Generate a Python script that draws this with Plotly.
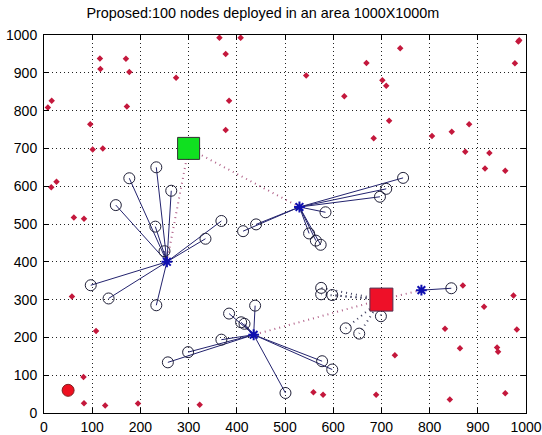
import plotly.graph_objects as go

title_text = "Proposed:100 nodes deployed in an area 1000X1000m"
tick_vals = list(range(0, 1001, 100))

# plain (unclustered) sensor nodes
node_x = [8, 16, 15, 26, 62, 83, 96, 101, 122, 116, 117, 170, 177, 172,
          58, 108, 82, 83, 127, 195, 323,
          364, 408, 377, 739, 984,
          559, 579, 689, 842, 957,
          986, 977, 805, 846, 882, 874, 924, 915, 957,
          869, 974, 913, 832, 981, 863, 940, 942, 728,
          274, 384, 377, 544, 623, 669, 702, 710, 684, 716]
node_y = [808, 826, 597, 612, 517, 514, 764, 697, 700, 938, 910, 937, 902, 811,
          308, 217, 95, 26, 20, 25, 22,
          993, 993, 950, 965, 983,
          55, 48, 48, 36, 52,
          986, 925, 733, 744, 764, 691, 688, 647, 641,
          337, 311, 281, 223, 221, 171, 173, 162, 153,
          887, 826, 749, 893, 838, 926, 880, 866, 727, 773]

# cluster heads
ch_x = [255, 530, 435, 783]
ch_y = [400, 545, 207, 325]

# members of each cluster head
m1_x = [233, 177, 264, 149, 231, 368, 335, 97, 134, 233, 250]
m1_y = [650, 621, 588, 550, 493, 508, 461, 338, 303, 285, 428]
m2_x = [745, 710, 697, 584, 550, 564, 574, 413, 440]
m2_y = [622, 593, 572, 531, 475, 456, 445, 481, 499]
m3_x = [438, 384, 409, 416, 368, 299, 257, 577, 598, 501]
m3_y = [284, 263, 240, 236, 194, 161, 134, 137, 115, 53]
m4_x = [845]
m4_y = [330]

# red square head and its members
rs_x, rs_y = 700, 300
m5_x = [575, 575, 598, 626, 654, 699]
m5_y = [331, 314, 312, 224, 210, 256]

# green square (base station) and red sink
bs_x, bs_y = 300, 700
sink_x, sink_y = 50, 60

FONT = "Liberation Sans, Arial, Helvetica, sans-serif"

fig = go.Figure()

def seg_lines(cx, cy, xs, ys):
    lx, ly = [], []
    for x, y in zip(xs, ys):
        lx += [cx, x, None]
        ly += [cy, y, None]
    return lx, ly

# solid member links
all_lx, all_ly = [], []
for (cx, cy), (xs, ys) in zip(zip(ch_x, ch_y), [(m1_x, m1_y), (m2_x, m2_y), (m3_x, m3_y), (m4_x, m4_y)]):
    lx, ly = seg_lines(cx, cy, xs, ys)
    all_lx += lx
    all_ly += ly
fig.add_trace(go.Scatter(x=all_lx, y=all_ly, mode="lines",
                         line=dict(color="#23236e", width=1), hoverinfo="skip"))

# dotted links red square -> members
lx, ly = seg_lines(rs_x, rs_y, m5_x, m5_y)
fig.add_trace(go.Scatter(x=lx, y=ly, mode="lines",
                         line=dict(color="#404060", width=2, dash="1px,4px"), hoverinfo="skip"))

# dotted links to squares
lx, ly = seg_lines(bs_x, bs_y, ch_x[:2], ch_y[:2])
lx2, ly2 = seg_lines(rs_x, rs_y, ch_x[2:], ch_y[2:])
fig.add_trace(go.Scatter(x=lx + lx2, y=ly + ly2, mode="lines",
                         line=dict(color="#b06088", width=2, dash="1px,4px"), hoverinfo="skip"))

# member circles
fig.add_trace(go.Scatter(x=m1_x + m2_x + m3_x + m4_x + m5_x,
                         y=m1_y + m2_y + m3_y + m4_y + m5_y, mode="markers",
                         marker=dict(symbol="circle-open", size=11, color="#202038",
                                     line=dict(width=1))))

# plain nodes
fig.add_trace(go.Scatter(x=node_x, y=node_y, mode="markers",
                         marker=dict(symbol="diamond", size=5, color="#c4183c")))

# cluster heads
fig.add_trace(go.Scatter(x=ch_x, y=ch_y, mode="markers",
                         marker=dict(symbol="asterisk-open", size=9, color="#1010b0",
                                     line=dict(color="#1010b0", width=2))))

# squares
fig.add_trace(go.Scatter(x=[bs_x], y=[bs_y], mode="markers",
                         marker=dict(symbol="square", size=22, color="#10e020",
                                     line=dict(color="#303030", width=1))))
fig.add_trace(go.Scatter(x=[rs_x], y=[rs_y], mode="markers",
                         marker=dict(symbol="square", size=23, color="#ee1028",
                                     line=dict(color="#503050", width=1))))
fig.add_trace(go.Scatter(x=[sink_x], y=[sink_y], mode="markers",
                         marker=dict(symbol="circle", size=12, color="#ee1020",
                                     line=dict(color="#802020", width=1))))

axis_common = dict(range=[0, 1000], tickvals=tick_vals, ticks="inside", ticklen=5,
                   tickcolor="black", showline=True, linecolor="black", linewidth=1,
                   mirror="ticks", showgrid=True, gridcolor="#222222", griddash="1px,3px",
                   gridwidth=1, zeroline=False, automargin=False,
                   tickfont=dict(family=FONT, size=14, color="black"))

fig.update_layout(
    width=542, height=435,
    margin=dict(l=44, r=16, t=35, b=22),
    paper_bgcolor="white", plot_bgcolor="white",
    showlegend=False,
    title=dict(text=title_text, x=0.485, xanchor="center", y=1 - 13 / 435, yanchor="middle",
               yref="container", automargin=False,
               font=dict(family=FONT, size=14.4, color="black")),
    xaxis=dict(axis_common, ticklabelstandoff=1),
    yaxis=dict(axis_common, ticklabelstandoff=3),
)

fig.write_html("out.html")
